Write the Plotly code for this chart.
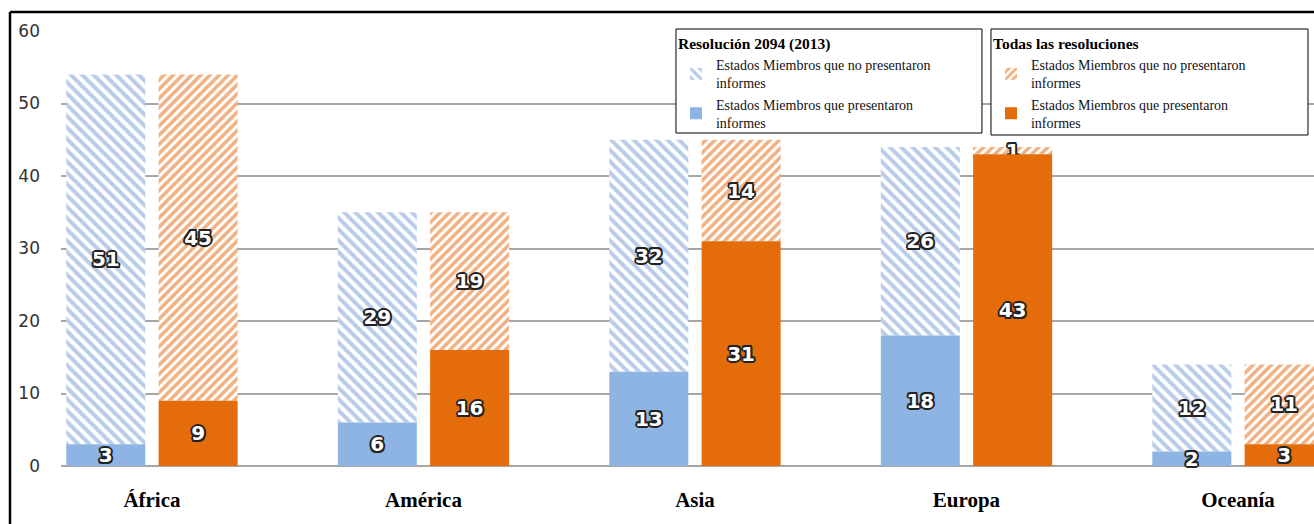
import plotly.graph_objects as go

categories = ["África", "América", "Asia", "Europa", "Oceanía"]
res_presented = [3, 6, 13, 18, 2]
res_not_presented = [51, 29, 32, 26, 12]
all_presented = [9, 16, 31, 43, 3]
all_not_presented = [45, 19, 14, 1, 11]
y_ticks = [0, 10, 20, 30, 40, 50, 60]

BLUE = "#8EB4E3"
BLUE_HATCH = "#7199D4"
ORANGE = "#E46C0A"
ORANGE_HATCH = "#E0640A"
OUT = "#222"
shadow = ", ".join(f"{dx}px {dy}px 0 {OUT}" for dx, dy in
                   [(2, 0), (-2, 0), (0, 2), (0, -2), (1.5, 1.5), (-1.5, -1.5), (1.5, -1.5), (-1.5, 1.5)])
label_font = dict(family="DejaVu Sans", size=20, color="white", weight="bold", shadow=shadow)

fig = go.Figure()

common_text = dict(textposition="inside", insidetextanchor="middle", textangle=0,
                   textfont=label_font, constraintext="none", cliponaxis=False)

fig.add_trace(go.Bar(
    x=categories, y=res_not_presented, base=res_presented, offsetgroup="a",
    name="Estados Miembros que no presentaron<br>informes", legend="legend",
    marker=dict(color="white", line=dict(width=0),
                pattern=dict(shape="\\", fgcolor=BLUE_HATCH, bgcolor="white", size=8, solidity=0.5)),
    text=res_not_presented, **common_text))
fig.add_trace(go.Bar(
    x=categories, y=res_presented, offsetgroup="a",
    name="Estados Miembros que presentaron<br>informes", legend="legend",
    marker=dict(color=BLUE, line=dict(width=0)),
    text=res_presented, **common_text))
fig.add_trace(go.Bar(
    x=categories, y=all_not_presented, base=all_presented, offsetgroup="b",
    name="Estados Miembros que no presentaron<br>informes", legend="legend2",
    marker=dict(color="white", line=dict(width=0),
                pattern=dict(shape="/", fgcolor=ORANGE_HATCH, bgcolor="white", size=6.5, solidity=0.55)),
    text=all_not_presented, **common_text))
fig.add_trace(go.Bar(
    x=categories, y=all_presented, offsetgroup="b",
    name="Estados Miembros que presentaron<br>informes", legend="legend2",
    marker=dict(color=ORANGE, line=dict(width=0)),
    text=all_presented, **common_text))

legend_common = dict(
    yanchor="top", xanchor="left", y=1.0046,
    bgcolor="rgba(0,0,0,0)", borderwidth=0,
    font=dict(family="Liberation Serif", size=14, color="#111"),
    itemsizing="constant",
)
title_font = dict(family="Liberation Serif", size=15.5, color="black", weight="bold")

def box(x0, x1, y0, y1):
    return dict(type="rect", xref="paper", yref="paper", x0=x0, x1=x1, y0=y0, y1=y1,
                line=dict(color="black", width=1), fillcolor="white", layer="above")

fig.update_layout(
    width=1314, height=524,
    margin=dict(l=61, r=0, t=31, b=58),
    paper_bgcolor="white", plot_bgcolor="white",
    barmode="group", bargap=0.32, bargroupgap=0.144,
    uniformtext=dict(minsize=20, mode="show"),
    xaxis=dict(range=[-0.335, 4.28], showgrid=False, showline=False, zeroline=False,
               tickfont=dict(family="Liberation Serif", size=21, color="black", weight="bold"),
               ticklabelstandoff=19, ticks=""),
    yaxis=dict(range=[0, 60], tickvals=y_ticks, showgrid=True, gridcolor="#A6A6A6", gridwidth=1.5,
               zeroline=True, zerolinecolor="#A6A6A6", zerolinewidth=1.5, showline=False,
               tickfont=dict(family="DejaVu Sans", size=17, color="#333"),
               ticklabelstandoff=20, ticks=""),
    legend=dict(x=0.4908, title=dict(text="Resolución 2094 (2013)", font=title_font), **legend_common),
    legend2=dict(x=0.7422, title=dict(text="Todas las resoluciones", font=title_font), **legend_common),
    shapes=[
        box(0.4908, 0.7350, 0.7655, 1.0046),
        box(0.7422, 0.9952, 0.7609, 1.0046),
        dict(type="line", xref="paper", yref="paper", x0=-0.0407, x1=-0.0407, y0=1.0437, y1=-0.2,
             line=dict(color="black", width=2.5), layer="above"),
        dict(type="line", xref="paper", yref="paper", x0=-0.0407, x1=1.02, y0=1.0437, y1=1.0437,
             line=dict(color="black", width=2.5), layer="above"),
    ],
    showlegend=True,
)

fig.write_html("out.html")
